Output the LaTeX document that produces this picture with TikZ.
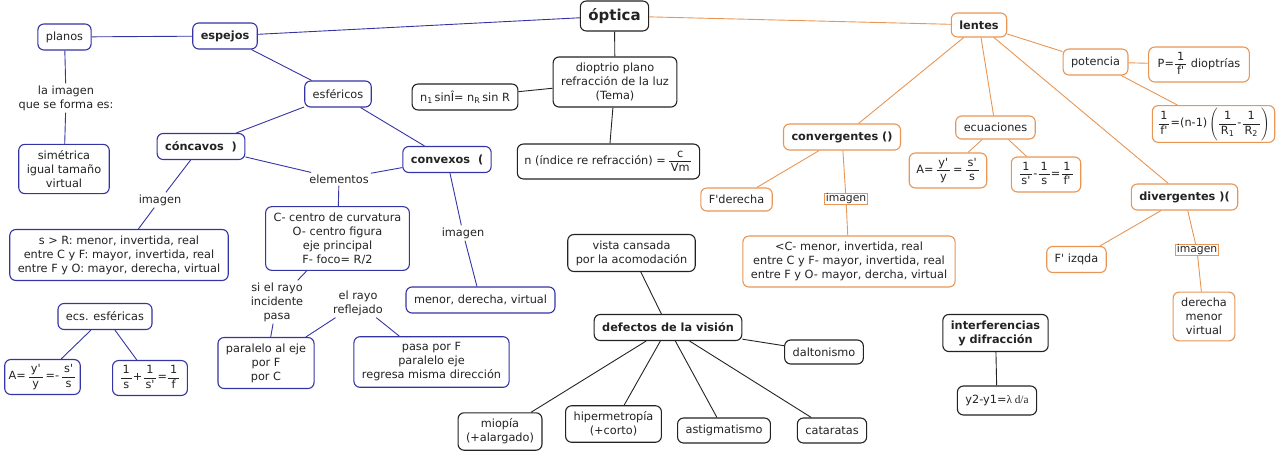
\documentclass[tikz,border=0pt]{standalone}
\usepackage{amsmath}
\usepackage{fontspec}
\setmainfont{DejaVu Sans}[Ligatures=TeXOff]
\newfontfamily\timesfont{Liberation Serif}
\definecolor{mapblue}{RGB}{52,52,165}
\definecolor{maporange}{RGB}{232,150,85}
\definecolor{mapgray}{RGB}{35,35,35}
\newcommand{\fr}[2]{\dfrac{\rule[-3pt]{0pt}{13pt}\text{\,#1\,}}{\rule[-4pt]{0pt}{12pt}\text{\,#2\,}}}
\tikzset{
  concept/.style={draw, rounded corners=6pt, align=center, inner xsep=8pt, inner ysep=6pt,
    minimum height=26pt, line width=1.1pt, fill=white, text=mapgray, font=\fontsize{11.3}{14}\selectfont},
  bluebox/.style={concept, draw=mapblue},
  orangebox/.style={concept, draw=maporange},
  graybox/.style={concept, draw=mapgray},
  heavy/.style={font=\fontsize{11.3}{14}\selectfont\bfseries},
  formula/.style={inner xsep=7pt, inner ysep=3pt},
  linkword/.style={align=center, inner sep=2pt, text=mapgray, font=\fontsize{11.3}{14}\selectfont},
  orangetag/.style={draw=maporange, line width=0.8pt, inner xsep=1.5pt, inner ysep=0.5pt,
    text=mapgray, font=\fontsize{10.8}{12}\selectfont},
  blueline/.style={draw=mapblue, line width=0.9pt},
  orangeline/.style={draw=maporange, line width=0.9pt},
  grayline/.style={draw=mapgray, line width=0.9pt}
}
\begin{document}
\begin{tikzpicture}[x=1pt,y=-1pt]
    \useasboundingbox (0,0) rectangle (1279,455);
    \node[graybox, minimum height=30pt, font=\fontsize{15}{18}\selectfont\bfseries] (optica) at (614.5,16) {óptica};
    % espejos
    \node[bluebox, heavy] (espejos) at (225,36) {espejos};
    \node[bluebox] (planos) at (64.5,37) {planos};
    \node[linkword] (limg) at (66,98) {la imagen\\que se forma es:};
    \node[bluebox] (simetrica) at (64,169) {simétrica\\igual tamaño\\virtual};
    \node[bluebox] (esfericos) at (338,94) {esféricos};
    \node[bluebox, heavy] (concavos) at (201,146.5) {cóncavos\ \ )};
    \node[bluebox, heavy] (convexos) at (447,159.5) {convexos\ \ (};
    \node[linkword] (elem) at (339,179) {elementos};
    \node[linkword] (imgcc) at (160,200) {imagen};
    \node[bluebox] (sR) at (119,255) {s > R: menor, invertida, real\\entre C y F: mayor, invertida, real\\entre F y O: mayor, derecha, virtual};
    \node[bluebox] (centros) at (337.5,238.5) {C- centro de curvatura\\O- centro figura\\eje principal\\F- foco= R/2};
    \node[linkword] (imgcx) at (463,233) {imagen};
    \node[bluebox] (menor) at (480.5,300) {menor, derecha, virtual};
    \node[linkword] (sirayo) at (277,302) {si el rayo\\incidente\\pasa};
    \node[linkword] (reflejado) at (358,303) {el rayo\\reflejado};
    \node[bluebox] (paralelo) at (266,363) {paralelo al eje\\por F\\por C};
    \node[bluebox] (pasapor) at (431.5,362) {pasa por F\\paralelo eje\\regresa misma dirección};
    \node[bluebox] (ecsesf) at (105,316.5) {ecs. esféricas};
    \node[bluebox, formula, inner xsep=4pt] (Aesf) at (42.5,377) {$\text{A=\,}\fr{y'}{y}\text{\,=-\,}\fr{s'}{s}$};
    \node[bluebox, formula] (inv) at (150,378) {$\fr{1}{s}\text{+}\fr{1}{s'}\text{=}\fr{1}{f}$};
    % dioptrio
    \node[graybox] (dioptrio) at (615,82) {dioptrio plano\\refracción de la luz\\(Tema)};
    \node[graybox] (snell) at (465,97) {n\textsubscript{1}\,sinÎ= n\textsubscript{R}\,sin R};
    \node[graybox, formula] (indice) at (608.5,161.5) {n (índice re refracción) $\text{=\,}\fr{c}{Vm}$};
    % lentes
    \node[orangebox, heavy, minimum height=24pt] (lentes) at (979,25) {lentes};
    \node[orangebox] (potencia) at (1095.5,62) {potencia};
    \node[orangebox, formula, inner xsep=9pt] (Pdiop) at (1199,64.5) {P$\text{=}\fr{1}{f'}$ dioptrías};
    \node[orangebox, formula, inner xsep=5pt, inner ysep=2pt] (lensmaker) at (1213.5,124) {$\fr{1}{f'}\text{=(n-1)}\left(\fr{1}{R\textsubscript{1}}\text{-}\fr{1}{R\textsubscript{2}}\right)$};
    \node[orangebox, heavy] (conv) at (842,137) {convergentes ()};
    \node[orangebox, minimum height=23pt] (ecuac) at (995.5,127.5) {ecuaciones};
    \node[orangebox, formula] (Alen) at (948,170.5) {$\text{A=\,}\fr{y'}{y}\text{\,=\,}\fr{s'}{s}$};
    \node[orangebox, formula] (gauss) at (1046,174.5) {$\fr{1}{s'}\text{-}\fr{1}{s}\text{=}\fr{1}{f'}$};
    \node[orangebox, heavy] (diverg) at (1184.5,197) {divergentes )(};
    \node[orangebox, minimum height=23pt] (Fder) at (736.5,199.5) {F'derecha};
    \node[orangetag] (imgcv) at (846,199) {imagen};
    \node[orangebox] (cvimg) at (849,261.5) {<C- menor, invertida, real\\entre C y F- mayor, invertida, real\\entre F y O- mayor, dercha, virtual};
    \node[orangebox] (Fizq) at (1076.5,259.5) {F' izqda};
    \node[orangetag] (imgdv) at (1197,250) {imagen};
    \node[orangebox] (dvimg) at (1204,316.5) {derecha\\menor\\virtual};
    % defectos
    \node[graybox] (vista) at (631.5,253) {vista cansada\\por la acomodación};
    \node[graybox, heavy] (defectos) at (668,327.5) {defectos de la visión};
    \node[graybox, minimum height=24pt] (dalton) at (824,352) {daltonismo};
    \node[graybox] (miopia) at (500,431.5) {miopía\\(+alargado)};
    \node[graybox] (hiper) at (613.5,424) {hipermetropía\\(+corto)};
    \node[graybox, minimum height=25pt] (astig) at (724,430.5) {astigmatismo};
    \node[graybox, minimum height=25pt] (catar) at (832,430.5) {cataratas};
    \node[graybox, heavy] (interf) at (995.5,333) {interferencias\\y difracción};
    \node[graybox, minimum height=29pt] (young) at (997,400.5) {y2-y1={\timesfont λ d/a}};
    % connectors
    \foreach \a/\b in {optica/espejos, espejos/planos, planos/limg, limg/simetrica,
        espejos/esfericos, esfericos/concavos, esfericos/convexos, concavos/imgcc, imgcc/sR,
        concavos/elem, convexos/elem, elem/centros, convexos/imgcx, imgcx/menor,
        centros/sirayo, sirayo/paralelo, reflejado/paralelo, reflejado/pasapor,
        ecsesf/Aesf, ecsesf/inv}
      \draw[blueline] (\a) -- (\b);
    \foreach \a/\b in {optica/lentes, lentes/potencia, potencia/Pdiop, potencia/lensmaker,
        lentes/conv, lentes/ecuac, lentes/diverg, ecuac/Alen, ecuac/gauss,
        conv/Fder, conv/imgcv, imgcv/cvimg, diverg/Fizq, diverg/imgdv, imgdv/dvimg}
      \draw[orangeline] (\a) -- (\b);
    \foreach \a/\b in {optica/dioptrio, dioptrio/snell, dioptrio/indice,
        vista/defectos, defectos/miopia, defectos/hiper, defectos/astig,
        defectos/catar, defectos/dalton, interf/young}
      \draw[grayline] (\a) -- (\b);
  \end{tikzpicture}
\end{document}
